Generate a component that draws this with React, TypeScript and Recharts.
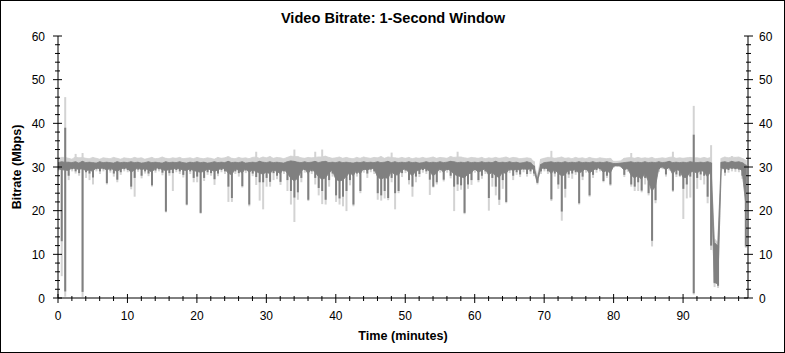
import React from 'react';
import { ComposedChart, Area, Bar, XAxis, YAxis } from 'recharts';

// one sample every 0.5 minute, 0 .. 99 min
// lowest / highest 1-second value in each half minute (dark = average trace, light = peak trace)
const darkLow = [
  29.5, 13, 1.5, 28, 29.5, 29, 28.6, 1.4, 28.8, 28.5, 27.6, 29.5, 29, 29.5, 26.3, 29.2, 28.5, 27.1, 28.8, 29.5,
  29.3, 25.5, 27.5, 29.4, 28, 29, 28.5, 25.8, 29.2, 29.5, 28.7, 19.8, 28.6, 28.6, 29.3, 29, 28.2, 21.4, 29, 27.5,
  27.8, 19.5, 27.5, 28.8, 28.6, 27.2, 28.5, 29.3, 29, 25.5, 22.9, 29, 28.6, 25.6, 29.2, 21.4, 28.5, 27.7, 26.5, 26.5,
  27.5, 26.6, 28.6, 28, 26.6, 29, 27, 24.5, 23, 24.2, 27.5, 29.3, 22.5, 29, 27.5, 25.2, 24.5, 22.5, 27, 28.5,
  23.5, 22.8, 23.2, 24.5, 27, 21.4, 28.5, 24.5, 29.3, 28.5, 29.4, 29, 24, 23.5, 24.5, 22.9, 27.5, 24, 24.5, 28.6,
  29.2, 27, 25.5, 27.8, 28.4, 29.3, 29, 27.1, 25.5, 26.5, 29.3, 27.1, 29.3, 28, 25.5, 26, 25.8, 19.5, 26, 27,
  29.3, 27, 28, 29, 22.9, 27.5, 25.5, 22.5, 27, 22, 29.2, 28, 28.8, 28.3, 29.4, 28.4, 29, 28.5, 26.4, 29,
  29.5, 29, 22.6, 28.5, 26, 19.8, 25, 28.3, 28.5, 28.8, 21.7, 27.8, 29.3, 23.5, 28.2, 29.3, 29.5, 26.8, 28, 26,
  30.2, 30.3, 30.2, 28.2, 29.5, 26, 25.5, 26.5, 24.6, 27.5, 24, 13.1, 22.4, 29.5, 30, 28.3, 29.8, 24.6, 28.3, 28,
  25, 26, 27.8, 1.1, 27.5, 28.3, 28, 23.2, 12, 3.4, 2.8, 29.8, 28.7, 29.3, 29.6, 29.5, 29.4, 28, 11.8,
];

const darkHigh = [
  31, 31.2, 31.1, 31.1, 31, 31.2, 30.9, 31.3, 31, 31.1, 31, 30.9, 31.2, 31, 31.1, 31, 30.9, 31.2, 31, 31.1,
  31, 31.2, 31, 31.1, 30.9, 31, 31.2, 31, 31.1, 31, 30.9, 31.2, 31, 31.1, 31, 31.2, 31, 30.9, 31.1, 31,
  31.2, 31, 31.1, 30.9, 31, 31.2, 31, 31.1, 31, 31.3, 31, 31.1, 31, 31.2, 30.9, 31, 31.1, 31, 31.3, 31.1,
  31, 31.2, 31, 31.1, 31, 30.9, 31.2, 31.4, 31.3, 31.1, 31, 31.2, 31, 31.1, 31.3, 31, 31.2, 31.3, 31, 31.1,
  31, 31.2, 31, 31.1, 31, 30.9, 31.1, 31, 31.2, 31, 31.1, 31, 31.2, 31, 31.1, 31.3, 31, 31.2, 31, 31.1,
  31, 31.2, 31, 31.1, 30.9, 31, 31.2, 31, 31.1, 31, 31.2, 31, 31.1, 31.3, 31.2, 31, 31.1, 31, 31.2, 31,
  31.1, 31, 31.2, 31, 31.1, 31, 31.3, 31, 31.1, 31, 31.2, 31, 31.1, 30.9, 31, 31.2, 31, 30.3, 27.2, 30.6,
  31, 31.1, 31.2, 31, 31.1, 31, 31.2, 31, 31.1, 31, 31.2, 31, 31.1, 31, 31.2, 31, 31.1, 31, 31.2, 31,
  30.8, 30.8, 30.9, 31, 31.1, 31.2, 31, 31.1, 31, 31.2, 31, 31.1, 31, 31.2, 31, 31.1, 31.3, 31, 31.1, 31,
  31.1, 31, 31.2, 31.1, 31, 31.1, 31, 31.2, 31, 12.6, 12, 31.1, 31.2, 31, 31.3, 31.1, 31.2, 31, 30.5,
];

const lightLow = [
  29, 5, 0.3, 27, 29, 28.5, 28, 0.2, 27.5, 27, 26, 29, 28.4, 29, 26, 28.7, 27.8, 26.5, 28.2, 29,
  28.8, 24.9, 23.2, 28.9, 27.4, 28.5, 27.9, 25.5, 28.7, 29, 28.1, 19.6, 28, 24.5, 28.8, 28.4, 27.6, 21.2, 28.4, 26.5,
  26.5, 19.3, 26.8, 28.2, 28, 25.9, 27.9, 28.8, 28.4, 22, 22, 28.4, 27.8, 25.3, 28.6, 21, 27.9, 25.9, 22.3, 20.3,
  25.5, 25.5, 27, 27.2, 25.9, 28.4, 24.5, 21.4, 17.4, 22.5, 26.5, 28.7, 22.2, 28.4, 26, 23.5, 21.5, 21.4, 25.5, 27.8,
  22, 21.4, 21, 19.9, 25.8, 21, 27.8, 24, 28.7, 27.5, 28.8, 28.4, 22.5, 22.3, 22.8, 22.4, 26.5, 20.3, 24, 27.7,
  28.6, 26, 23.2, 26.5, 27.7, 28.7, 28.4, 23.6, 25.3, 26, 28.7, 26.7, 28.7, 27.4, 19.9, 24.5, 24.8, 19.2, 25, 25.9,
  28.7, 26.5, 27.3, 28.4, 20, 25.5, 23.5, 21.3, 25, 21.7, 28.6, 27, 28.2, 27.7, 28.8, 27.8, 28.4, 27.9, 26, 28.4,
  29, 28.4, 22.2, 27.8, 25, 17.7, 23, 27.5, 27.3, 28.2, 21.4, 27, 28.7, 23.2, 27.5, 28.7, 29, 26.5, 27.5, 25.7,
  29.9, 30, 29.9, 27.7, 28.9, 25.5, 24.5, 24.5, 24.2, 26, 23.5, 11.8, 21.7, 28.9, 29.5, 27.8, 29.2, 24.3, 27.7, 27.7,
  18.1, 22.8, 23, 0.8, 25, 27, 26, 21.7, 11, 2.5, 2.3, 29.2, 28, 28.7, 29, 28.9, 28.8, 27.3, 11.5,
];

const lightHigh = [
  31.9, 32.2, 32.2, 32, 31.8, 32.3, 32.1, 32.2, 32, 31.9, 32.2, 32, 31.8, 32.1, 32, 31.9, 32.2, 32, 31.8, 32.1,
  32, 31.9, 32.2, 32, 32.1, 31.8, 32, 32.2, 31.9, 32, 32.3, 32, 31.9, 32.1, 32, 32.2, 31.9, 32, 32.1, 31.9,
  32.2, 32, 31.9, 32.1, 32, 31.8, 32.2, 32, 32.1, 32.4, 32, 31.9, 32.2, 32, 32.1, 31.9, 32.2, 32.3, 32, 32.3,
  32.1, 32.4, 32, 32.2, 32.1, 31.9, 32.2, 32.5, 32.4, 32.4, 32.1, 32, 32.2, 32.1, 32.2, 32.3, 32.3, 32.5, 32.2, 32,
  32.1, 32.3, 32, 32.2, 32, 31.9, 32.2, 32, 32.3, 32.1, 32, 32.2, 32.1, 32.4, 32, 32.3, 32.2, 32.1, 32, 32.2,
  32, 32.2, 31.9, 32.1, 32, 32.2, 32, 32.1, 32.3, 32, 32.2, 32.1, 32, 32.4, 32.2, 32.3, 32.3, 32.1, 32, 32.2,
  32.1, 32, 32.2, 31.9, 32.1, 32, 32.2, 32, 32.1, 32.3, 32, 32.2, 32.1, 31.9, 32, 32.1, 32, 31.3, 27.8, 31.8,
  32, 32.2, 32.2, 32, 32.1, 32.3, 32, 32.1, 31.9, 32.2, 32, 32.1, 31.9, 32.2, 32, 31.9, 32.1, 32, 31.9, 32,
  31.3, 31.3, 31.4, 32, 32.1, 32.2, 32, 32.2, 32, 32.1, 32, 32.2, 31.9, 32, 32.1, 32, 32.2, 32.3, 32, 32.1,
  32, 32.1, 32.2, 32.1, 32.1, 32, 32.2, 32, 32.2, 13.5, 12.8, 32, 32.3, 32.1, 32.3, 32.2, 32.3, 32, 31.6,
];

// lower edge of the solid dark mass
const bandLow = [
  29.6, 29.4, 29.3, 29.2, 29.8, 29.6, 29.5, 29.6, 29.2, 29.3, 29, 29.8, 29.6, 29.8, 29.3, 29.7, 29.4, 29, 29.5, 29.8,
  29.7, 28.8, 29.3, 29.8, 29.4, 29.6, 29.4, 28.8, 29.7, 29.8, 29.4, 29.2, 29.4, 29.5, 29.7, 29.6, 29.3, 29.2, 29.6, 29.2,
  29, 28.8, 29, 29.5, 29.4, 29, 29.3, 29.7, 29.6, 28.6, 28.2, 29.6, 29.3, 28.6, 29.7, 28.8, 29.3, 29, 28.6, 28.4,
  28.8, 28.5, 29.3, 29, 28.5, 29.6, 28.6, 27.5, 26.8, 27.4, 29, 29.7, 28.5, 29.6, 28.8, 27.8, 27.2, 27.5, 28.6, 29.3,
  27.2, 26.8, 27, 27.8, 28.8, 28, 29.3, 28.4, 29.7, 29.2, 29.7, 29.6, 27.8, 27.2, 27.6, 27.4, 29, 28.2, 28.2, 29.3,
  29.6, 28.8, 28, 29, 29.3, 29.7, 29.6, 29, 28, 28.6, 29.7, 28.8, 29.6, 29.2, 28.4, 28, 27.8, 27.5, 28.4, 28.6,
  29.6, 28.8, 29.2, 29.6, 28.2, 28.8, 28, 27.6, 28.8, 28.5, 29.6, 29.2, 29.5, 29.3, 29.7, 29.4, 29.6, 29.5, 26.4, 29.6,
  29.8, 29.6, 28.5, 29.4, 28.6, 28, 28.2, 29.3, 29.2, 29.4, 28.6, 29, 29.7, 28.6, 29.2, 29.7, 29.8, 28.8, 29.2, 28.6,
  30.2, 30.3, 30.2, 29.3, 29.7, 28.2, 27.5, 28, 27.2, 28.6, 26.8, 24.5, 25.5, 29.7, 30, 29.4, 29.9, 28.4, 29.4, 29.2,
  27.6, 27.6, 28.8, 29, 28.6, 29.2, 29, 27.8, 29, 3.6, 3.2, 29.8, 29.5, 29.7, 29.8, 29.7, 29.7, 29.2, 22,
];

// isolated upward spikes
const lightPeakMinutes = [1, 2.5, 3.5, 28.5, 34, 37, 38, 48, 57.5, 71, 82.5, 88.5, 91.5, 94, 97];
const lightPeaks = [46, 33, 33.2, 33.5, 34, 33.5, 34, 33.3, 33.5, 33.7, 33.2, 33.5, 44, 35, 32.5];
const darkPeakMinutes = [1, 91.5];
const darkPeaks = [39, 37.4];

const minutes = darkLow.map((_, i) => i * 0.5);
const xTicks = [0, 2, 4, 6, 8, 10, 12, 14, 16, 18, 20, 22, 24, 26, 28, 30, 32, 34, 36, 38, 40, 42, 44, 46, 48,
  50, 52, 54, 56, 58, 60, 62, 64, 66, 68, 70, 72, 74, 76, 78, 80, 82, 84, 86, 88, 90, 92, 94, 96, 98];
const yTicks = [0, 2, 4, 6, 8, 10, 12, 14, 16, 18, 20, 22, 24, 26, 28, 30, 32, 34, 36, 38, 40, 42, 44, 46, 48,
  50, 52, 54, 56, 58, 60];

const data = minutes.map((t, i) => {
  const lp = lightPeakMinutes.indexOf(t);
  const dp = darkPeakMinutes.indexOf(t);
  return {
    t,
    lightBand: [bandLow[i], lightHigh[i]],
    darkBand: [bandLow[i], darkHigh[i]],
    lightSpike: [lightLow[i], lp >= 0 ? lightPeaks[lp] : lightHigh[i]],
    darkSpike: [darkLow[i], dp >= 0 ? darkPeaks[dp] : darkHigh[i]],
  };
});

const FONT = 'Arial, "Liberation Sans", sans-serif';
const LIGHT = '#d3d3d3';
const DARK = '#808080';

function BottomTick({ x, y, payload }: any) {
  const major = payload.value % 10 === 0;
  return (
    <g>
      <line x1={x} x2={x} y1={y - (major ? 4 : 2)} y2={y + (major ? 5 : 3)} stroke="#000" />
      {major && (
        <text x={x} y={y + 22} textAnchor="middle" fontSize={12} fontFamily={FONT} fill="#000">
          {payload.value}
        </text>
      )}
    </g>
  );
}

function TopTick({ x, y, payload }: any) {
  const major = payload.value % 10 === 0;
  return <line x1={x} x2={x} y1={y} y2={y + (major ? 5 : 3)} stroke="#000" />;
}

function LeftTick({ x, y, payload }: any) {
  const major = payload.value % 10 === 0;
  return (
    <g>
      <line x1={x - (major ? 5 : 3)} x2={x + (major ? 4 : 2)} y1={y} y2={y} stroke="#000" />
      {major && (
        <text x={x - 13} y={y + 4.5} textAnchor="end" fontSize={12} fontFamily={FONT} fill="#000">
          {payload.value}
        </text>
      )}
    </g>
  );
}

function RightTick({ x, y, payload }: any) {
  const major = payload.value % 10 === 0;
  return (
    <g>
      <line x1={x - (major ? 4 : 2)} x2={x + (major ? 5 : 3)} y1={y} y2={y} stroke="#000" />
      {major && (
        <text x={x + 11} y={y + 4.5} textAnchor="start" fontSize={12} fontFamily={FONT} fill="#000">
          {payload.value}
        </text>
      )}
    </g>
  );
}

export default function App() {
  return (
    <div style={{ position: 'absolute', left: 0, top: 0, width: 785, height: 353, background: '#fff' }}>
      <ComposedChart width={785} height={353} data={data} margin={{ top: 36, right: 0, bottom: 0, left: 0 }}>
        <XAxis
          xAxisId="bottom"
          dataKey="t"
          type="number"
          domain={[0, 99.35]}
          allowDataOverflow
          ticks={xTicks}
          interval={0}
          height={55}
          tickSize={0}
          tickMargin={0}
          tickLine={false}
          axisLine={{ stroke: '#000' }}
          tick={<BottomTick />}
        />
        <XAxis
          xAxisId="top"
          orientation="top"
          dataKey="t"
          type="number"
          domain={[0, 99.35]}
          allowDataOverflow
          ticks={xTicks}
          interval={0}
          height={0}
          tickSize={0}
          tickMargin={0}
          tickLine={false}
          axisLine={{ stroke: '#000' }}
          tick={<TopTick />}
        />
        <YAxis
          yAxisId="left"
          type="number"
          domain={[0, 60]}
          allowDataOverflow
          ticks={yTicks}
          interval={0}
          width={58}
          tickSize={0}
          tickMargin={0}
          tickLine={false}
          axisLine={{ stroke: '#000' }}
          tick={<LeftTick />}
        />
        <YAxis
          yAxisId="right"
          orientation="right"
          type="number"
          domain={[0, 60]}
          allowDataOverflow
          ticks={yTicks}
          interval={0}
          width={37}
          tickSize={0}
          tickMargin={0}
          tickLine={false}
          axisLine={{ stroke: '#000' }}
          tick={<RightTick />}
        />
        <Area
          xAxisId="top"
          yAxisId="right"
          type="linear"
          dataKey="lightBand"
          stroke={LIGHT}
          strokeWidth={0.8}
          fill={LIGHT}
          fillOpacity={1}
          dot={false}
          activeDot={false}
          isAnimationActive={false}
          zIndex={101}
        />
        <Bar
          xAxisId="top"
          yAxisId="right"
          dataKey="lightSpike"
          fill={LIGHT}
          barSize={2}
          isAnimationActive={false}
          zIndex={102}
        />
        <Area
          xAxisId="bottom"
          yAxisId="left"
          type="linear"
          dataKey="darkBand"
          stroke={DARK}
          strokeWidth={0.8}
          fill={DARK}
          fillOpacity={1}
          dot={false}
          activeDot={false}
          isAnimationActive={false}
          zIndex={103}
        />
        <Bar
          xAxisId="bottom"
          yAxisId="left"
          dataKey="darkSpike"
          fill={DARK}
          barSize={2}
          isAnimationActive={false}
          zIndex={104}
        />
      </ComposedChart>
      <svg
        width={785}
        height={353}
        style={{ position: 'absolute', left: 0, top: 0, pointerEvents: 'none' }}
      >
        <rect x={0.5} y={0.5} width={784} height={352} fill="none" stroke="#000" />
        <text x={393} y={23} textAnchor="middle" fontSize={14.6} fontWeight="bold" fontFamily={FONT} fill="#000">
          Video Bitrate: 1-Second Window
        </text>
        <text x={403} y={340} textAnchor="middle" fontSize={12.6} fontWeight="bold" fontFamily={FONT} fill="#000">
          Time (minutes)
        </text>
        <text
          x={20.5}
          y={167}
          transform="rotate(-90 20.5 167)"
          textAnchor="middle"
          fontSize={12.6}
          fontWeight="bold"
          fontFamily={FONT}
          fill="#000"
        >
          Bitrate (Mbps)
        </text>
      </svg>
    </div>
  );
}
